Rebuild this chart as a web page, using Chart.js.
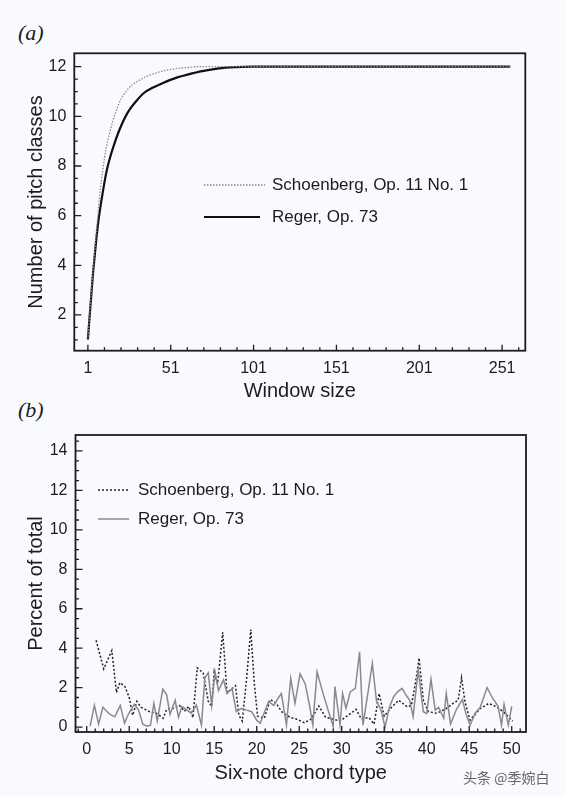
<!DOCTYPE html>
<html lang="en">
<head>
<meta charset="UTF-8">
<title>Pitch classes and six-note chord types</title>
<script src="https://cdn.jsdelivr.net/npm/chart.js@4"></script>
<style>
  * { box-sizing: border-box; margin: 0; padding: 0; }
  body { width: 566px; height: 796px; background: #f8fafd; position: relative; overflow: hidden;
         font-family: "Liberation Sans", Arial, sans-serif; color: #1b1b25; }
  .box { position: absolute; left: 0; width: 566px; }
  .panel { position: absolute; left: 18px; font-family: "Liberation Serif", "DejaVu Serif", serif;
           font-style: italic; font-size: 22px; line-height: 22px; }
  .leg { position: absolute; font-size: 17px; line-height: 20px; white-space: nowrap; }
  .leg svg { position: absolute; overflow: visible; }
  .mark { position: absolute; left: 463px; top: 768px; font-family: "Noto Sans CJK SC", sans-serif;
          font-size: 14px; line-height: 18px; color: #666; }
</style>
</head>
<body>
<div class="panel" style="top:22px">(a)</div>
<div class="panel" style="top:399px">(b)</div>
<div class="box" style="top:0;height:400px"><canvas id="chartA" width="566" height="400"></canvas></div>
<div class="box" style="top:400px;height:396px"><canvas id="chartB" width="566" height="396"></canvas></div>

<!-- legends -->
<div class="leg" style="left:204px;top:175px;">
  <svg width="1" height="1"><line x1="0" y1="10" x2="61" y2="10" stroke="#888" stroke-width="1.3" stroke-dasharray="1.5 1.5"/></svg>
  <span style="position:absolute;left:68px;top:0">Schoenberg, Op. 11 No. 1</span>
</div>
<div class="leg" style="left:204px;top:207px;">
  <svg width="1" height="1"><line x1="0" y1="10" x2="56" y2="10" stroke="#111" stroke-width="2.2"/></svg>
  <span style="position:absolute;left:68px;top:0">Reger, Op. 73</span>
</div>
<div class="leg" style="left:98px;top:480px;">
  <svg width="1" height="1"><line x1="0" y1="10" x2="30" y2="10" stroke="#222" stroke-width="1.5" stroke-dasharray="2 2"/></svg>
  <span style="position:absolute;left:40px;top:0">Schoenberg, Op. 11 No. 1</span>
</div>
<div class="leg" style="left:98px;top:509px;">
  <svg width="1" height="1"><line x1="0" y1="10" x2="31" y2="10" stroke="#8a8a8a" stroke-width="1.5"/></svg>
  <span style="position:absolute;left:40px;top:0">Reger, Op. 73</span>
</div>
<div class="mark">头条 @季婉白</div>

<script>
// ---------- Data: (a) number of pitch classes vs window size ----------
const windowReger = [1, 2, 3, 4, 5, 6, 7, 8, 10, 12, 14, 17, 20, 25, 30, 35, 40, 45, 50, 55, 60, 70, 80, 90, 100, 256];
const pcReger     = [1, 1.9, 2.75, 3.6, 4.3, 5.0, 5.6, 6.1, 6.95, 7.7, 8.25, 8.9, 9.45, 10.15, 10.6, 10.95, 11.15, 11.3, 11.45, 11.57, 11.66, 11.82, 11.93, 11.98, 12, 12];
const windowSchoen = [1, 2, 3, 4, 5, 6, 7, 8, 10, 12, 14, 16, 18, 21, 24, 28, 32, 36, 40, 47, 55, 60, 68, 80, 256];
const pcSchoen     = [1, 1.95, 2.85, 3.7, 4.5, 5.25, 6.0, 6.75, 7.85, 8.7, 9.3, 9.8, 10.2, 10.7, 11.0, 11.28, 11.45, 11.6, 11.7, 11.84, 11.93, 11.96, 12, 12, 12];

const aXMajor = [1, 51, 101, 151, 201, 251];
const aYMajor = [2, 4, 6, 8, 10, 12];

// ---------- Data: (b) percent of total per six-note chord type ----------
const chordSchoen = [1.1, 2.0, 2.95, 3.5, 3.9, 4.5, 5.0, 5.4, 5.9, 6.4, 7.4, 8.2, 9.0, 9.4, 10.2, 10.9, 11.5, 12.0, 12.5,
  13.0, 13.7, 14.3, 14.7, 15.0, 15.4, 16.0, 16.5, 17.1, 17.5, 17.9, 18.3, 18.8, 19.3, 19.7, 20.1, 20.9, 21.6, 22.2, 23.0,
  23.9, 24.7, 25.6, 26.4, 27.3, 28.1, 29.0, 29.8, 30.6, 31.7, 32.3, 33.2, 33.8, 34.4, 35.0, 35.7, 36.7, 37.7, 38.2, 38.7,
  39.1, 39.6, 40.2, 41.2, 42.3, 43.1, 43.7, 44.1, 44.5, 45.1, 46.3, 47.3, 48.2, 49.0, 49.6, 50.1];
const pctSchoen = [4.4, 2.95, 3.88, 1.75, 2.25, 2.05, 1.5, 0.6, 1.3, 1.0, 0.78, 0.7, 0.45, 0.9, 0.95, 1.1, 0.8, 1.05, 0.48,
  3.0, 2.75, 1.3, 1.05, 2.8, 2.2, 4.8, 1.75, 1.95, 2.1, 0.6, 0.3, 2.4, 4.95, 2.3, 0.55, 0.45, 1.4, 1.25, 0.75,
  0.5, 0.4, 0.22, 0.4, 1.07, 0.5, 0.4, 0.3, 0.55, 0.9, 0.42, 0.48, 0.15, 1.7, 0.55, 0.93, 1.36, 1.03, 1.1, 2.3,
  3.5, 1.36, 0.78, 0.7, 0.94, 1.2, 1.36, 2.5, 1.28, 0.35, 0.94, 1.2, 1.03, 0.78, 0.53, 0.3];

const chordReger = [0.4, 0.9, 1.4, 1.9, 2.7, 3.3, 3.95, 4.45, 4.9, 5.6, 6.1, 6.6, 7.1, 7.5, 7.9, 8.3, 8.95, 9.4, 9.8,
  10.4, 10.8, 11.2, 11.8, 12.3, 12.9, 13.5, 13.9, 14.3, 14.7, 15.1, 15.5, 16.1, 16.5, 17.1, 17.6, 18.2, 18.8, 19.4,
  20.0, 20.4, 21.0, 21.4, 22.0, 22.5, 22.9, 23.5, 24.0, 24.5, 25.1, 25.7, 26.2, 26.6, 27.1, 27.8, 28.4, 29.0, 29.2,
  29.8, 30.1, 30.5, 31.0, 31.6, 32.1, 32.5, 33.1, 33.6, 34.1, 34.6, 35.1, 35.6, 36.1, 36.6, 37.1, 37.6, 38.0, 38.4,
  39.0, 39.6, 40.0, 40.5, 41.0, 41.4, 42.0, 42.3, 42.8, 43.5, 44.2, 44.6, 45.1, 45.7, 46.3, 47.1, 47.7, 48.4, 48.8,
  49.1, 49.6, 50.0];
const pctReger = [0.05, 1.1, 0.15, 1.0, 0.65, 0.52, 1.1, 0.2, 0.65, 1.15, 0.86, 0.15, 0.05, 0.1, 1.2, 0.3, 1.92, 1.65, 0.65,
  1.36, 0.5, 1.05, 0.86, 0.7, 1.12, 0.1, 2.5, 2.75, 1.1, 2.8, 1.85, 2.4, 1.7, 1.95, 0.78, 0.95, 0.86, 0.78,
  0.35, 0.19, 0.85, 1.3, 1.1, 1.45, 1.7, 0.1, 2.47, 1.2, 2.7, 2.2, 1.12, 0.1, 2.8, 1.71, 0.86, 0.02, 2.05,
  0.1, 1.71, 0.95, 1.78, 1.96, 3.82, 0.1, 1.78, 3.23, 1.29, 0.9, 0.0, 1.0, 1.53, 1.8, 1.96, 1.6, 1.36, 0.53,
  2.9, 0.78, 0.69, 2.42, 0.86, 1.0, 0.45, 1.7, 0.15, 0.9, 1.4, 0.7, 0.1, 0.7, 1.0, 2.0, 1.5, 1.05, 0.1,
  1.15, 0.1, 1.05];

const bXMajor = [0, 5, 10, 15, 20, 25, 30, 35, 40, 45, 50];
const bYMajor = [0, 2, 4, 6, 8, 10, 12, 14];

// ---------- helpers ----------
const INK = '#1b1b25';
const range = (a, b, s) => { const out = []; for (let v = a; v <= b + 1e-9; v += s) out.push(+v.toFixed(3)); return out; };
const pts = (xs, ys) => xs.map((x, i) => ({ x, y: ys[i] }));

// tick marks drawn inside the frame, plus the closed box
const innerTicks = {
  id: 'innerTicks',
  afterDatasetsDraw(chart, args, o) {
    const { ctx, chartArea: a, scales: { x, y } } = chart;
    ctx.save();
    ctx.strokeStyle = INK;
    ctx.lineWidth = 1.3;
    ctx.beginPath();
    const xt = (vals, len) => vals.forEach(v => {
      const p = x.getPixelForValue(v);
      if (p <= a.left + 1 || p >= a.right - 1) return;
      ctx.moveTo(p, a.bottom); ctx.lineTo(p, a.bottom - len);
    });
    const yt = (vals, len) => vals.forEach(v => {
      const p = y.getPixelForValue(v);
      if (p <= a.top + 1 || p >= a.bottom - 1) return;
      ctx.moveTo(a.left, p); ctx.lineTo(a.left + len, p);
    });
    xt(o.xMinor, 3.5); xt(o.xMajor, 6);
    yt(o.yMinor, 3.5); yt(o.yMajor, 7);
    ctx.stroke();
    ctx.lineWidth = 1.8;
    ctx.strokeRect(a.left, a.top, a.width, a.height);
    ctx.restore();
  }
};

function axes(cfg) {
  const tickFont = { family: '"Liberation Sans", Arial, sans-serif', size: 16 };
  const titleFont = { family: '"Liberation Sans", Arial, sans-serif', size: 20, lineHeight: 1 };
  return {
    x: {
      type: 'linear', min: cfg.xMin, max: cfg.xMax,
      grid: { display: false, drawTicks: false }, border: { display: false },
      afterBuildTicks: s => { s.ticks = cfg.xMajor.map(v => ({ value: v })); },
      afterFit: s => { s.height = cfg.xH; },
      ticks: { color: INK, font: tickFont, padding: 8, maxRotation: 0, autoSkip: false },
      // for a bottom axis Chart.js offsets the title from the outer edge by padding.bottom
      title: { display: true, text: cfg.xTitle, color: INK, font: titleFont, padding: { top: 0, bottom: cfg.xTitlePad } }
    },
    y: {
      type: 'linear', min: cfg.yMin, max: cfg.yMax,
      grid: { display: false, drawTicks: false }, border: { display: false },
      afterBuildTicks: s => { s.ticks = cfg.yMajor.map(v => ({ value: v })); },
      afterFit: s => { s.width = cfg.yW; },
      ticks: { color: INK, font: tickFont, padding: 8, autoSkip: false },
      title: { display: true, text: cfg.yTitle, color: INK, font: titleFont, padding: { top: 26, bottom: 0 } }
    }
  };
}

const common = {
  responsive: false,
  animation: false,
  devicePixelRatio: 1,
  plugins: { legend: { display: false }, tooltip: { enabled: false } },
  elements: { point: { radius: 0 } }
};

// ---------- Chart (a) ----------
new Chart(document.getElementById('chartA'), {
  type: 'line',
  data: {
    datasets: [
      { label: 'Schoenberg, Op. 11 No. 1', data: pts(windowSchoen, pcSchoen), borderColor: '#8c8c8c',
        borderWidth: 1.3, borderDash: [1.5, 1.5], cubicInterpolationMode: 'monotone' },
      { label: 'Reger, Op. 73', data: pts(windowReger, pcReger), borderColor: '#111',
        borderWidth: 2.2, cubicInterpolationMode: 'monotone' }
    ]
  },
  options: {
    ...common,
    layout: { padding: { top: 53.3, right: 40.7, left: 0, bottom: 0 } },
    scales: axes({ xMin: -7.2, xMax: 265, yMin: 0.56, yMax: 12.54, xMajor: aXMajor, yMajor: aYMajor,
                   xH: 49.3, yW: 74.3, xTitle: 'Window size', yTitle: 'Number of pitch classes', xTitlePad: -1 }),
    plugins: { ...common.plugins,
      innerTicks: { xMajor: aXMajor, xMinor: range(11, 261, 10), yMajor: aYMajor, yMinor: range(1, 12.5, 0.5) } }
  },
  plugins: [innerTicks]
});

// ---------- Chart (b) ----------
new Chart(document.getElementById('chartB'), {
  type: 'line',
  data: {
    datasets: [
      { label: 'Reger, Op. 73', data: pts(chordReger, pctReger), borderColor: '#8a8a8a', borderWidth: 1.5 },
      { label: 'Schoenberg, Op. 11 No. 1', data: pts(chordSchoen, pctSchoen), borderColor: '#222',
        borderWidth: 1.5, borderDash: [2, 2] }
    ]
  },
  options: {
    ...common,
    layout: { padding: { top: 35, right: 40, left: 0, bottom: 0 } },
    scales: axes({ xMin: -1.32, xMax: 51.68, yMin: -0.25, yMax: 14.81, xMajor: bXMajor, yMajor: bYMajor,
                   xH: 64, yW: 75.5, xTitle: 'Six-note chord type', yTitle: 'Percent of total', xTitlePad: 13 }),
    plugins: { ...common.plugins,
      innerTicks: { xMajor: bXMajor, xMinor: range(-1, 51, 1), yMajor: bYMajor, yMinor: range(0, 14.5, 0.5) } }
  },
  plugins: [innerTicks]
});
</script>
</body>
</html>
